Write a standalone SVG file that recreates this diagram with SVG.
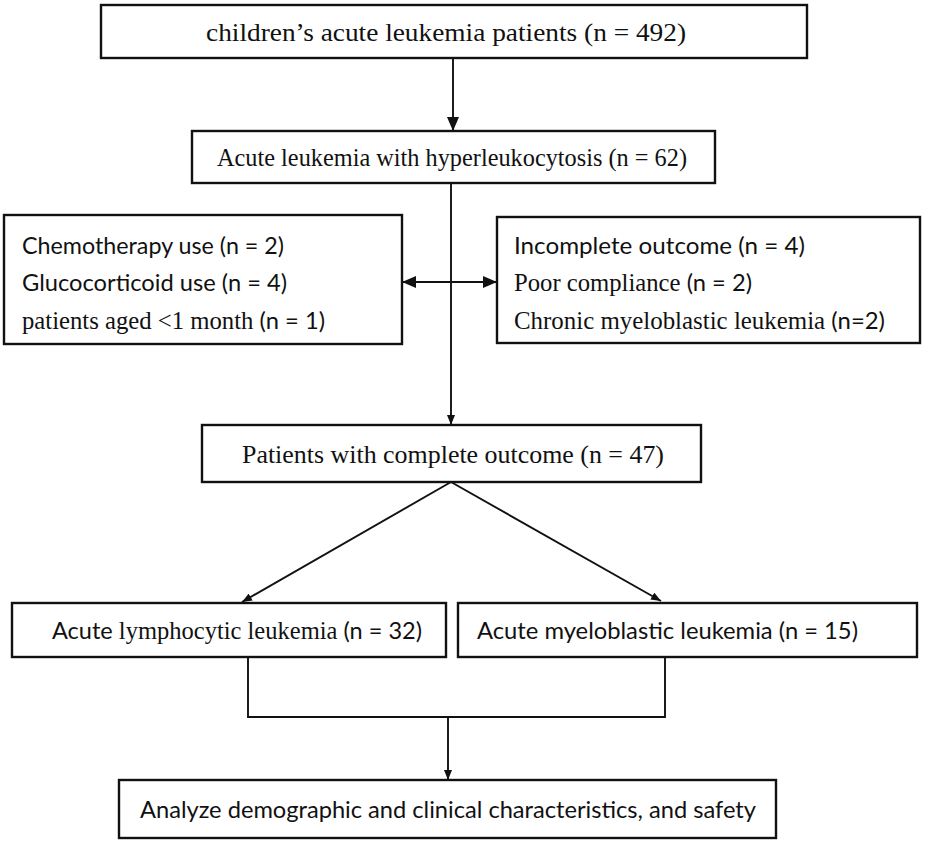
<svg xmlns="http://www.w3.org/2000/svg" width="929" height="844" viewBox="0 0 929 844">
<style>
.box{fill:#fff;stroke:#111;stroke-width:2.4}
.serif{font-family:"Liberation Serif","Times New Roman",serif;fill:#111}
.sans{font-family:Lato,"Open Sans","Liberation Sans",sans-serif;fill:#111}
.c{text-anchor:middle}
.ln{fill:none;stroke:#111;stroke-width:1.9}
</style>
<defs>
<marker id="big" viewBox="0 0 14 12" refX="14" refY="6" markerWidth="14" markerHeight="12" markerUnits="userSpaceOnUse" orient="auto"><path d="M0,0L14,6L0,12z" fill="#111"/></marker>
<marker id="mid" viewBox="0 0 14 12" refX="14" refY="6" markerWidth="14" markerHeight="12" markerUnits="userSpaceOnUse" orient="auto-start-reverse"><path d="M0,0L14,6L0,12z" fill="#111"/></marker>
<marker id="sm" viewBox="0 0 10 8" refX="10" refY="4" markerWidth="10" markerHeight="8" markerUnits="userSpaceOnUse" orient="auto"><path d="M0,0L10,4L0,8z" fill="#111"/></marker>
</defs>
<rect width="929" height="844" fill="#fff"/>
<g id="connectors">
<line class="ln" x1="453" y1="58" x2="453" y2="131" marker-end="url(#big)"/>
<line class="ln" x1="451" y1="183" x2="451" y2="425" marker-end="url(#sm)"/>
<line class="ln" x1="402" y1="282" x2="497" y2="282" marker-start="url(#mid)" marker-end="url(#mid)"/>
<line class="ln" x1="451" y1="482" x2="242" y2="602" marker-end="url(#sm)"/>
<line class="ln" x1="451" y1="482" x2="661" y2="601" marker-end="url(#sm)"/>
<polyline class="ln" points="248,657 248,717 665,717 665,657"/>
<line class="ln" x1="448" y1="717" x2="448" y2="780" marker-end="url(#sm)"/>
</g>
<g id="n1">
<rect class="box" x="101" y="5" width="706" height="53"/>
<text class="serif c" x="446" y="41" font-size="26" textLength="480" lengthAdjust="spacingAndGlyphs">children’s acute leukemia patients (n = 492)</text>
</g>
<g id="n2">
<rect class="box" x="192" y="131" width="523" height="52"/>
<text class="serif c" x="452" y="166" font-size="26" textLength="470" lengthAdjust="spacingAndGlyphs">Acute leukemia with hyperleukocytosis (n = 62)</text>
</g>
<g id="n3">
<rect class="box" x="4" y="215" width="398" height="129"/>
<text class="sans" x="22" y="254" font-size="24" textLength="262" lengthAdjust="spacingAndGlyphs">Chemotherapy use (n = 2)</text>
<text class="sans" x="22" y="291" font-size="24" textLength="265" lengthAdjust="spacingAndGlyphs">Glucocorticoid use (n = 4)</text>
<text class="serif" x="22" y="329" font-size="25" textLength="303" lengthAdjust="spacingAndGlyphs">patients aged &lt;1 month <tspan class="sans" font-size="24">(n = 1)</tspan></text>
</g>
<g id="n4">
<rect class="box" x="497" y="217" width="423" height="126"/>
<text class="sans" x="514" y="254" font-size="24" textLength="291" lengthAdjust="spacingAndGlyphs">Incomplete outcome (n = 4)</text>
<text class="serif" x="514" y="291" font-size="25" textLength="238" lengthAdjust="spacingAndGlyphs">Poor compliance <tspan class="sans" font-size="24">(n = 2)</tspan></text>
<text class="serif" x="514" y="329" font-size="25" textLength="371" lengthAdjust="spacingAndGlyphs">Chronic myeloblastic leukemia <tspan class="sans" font-size="24">(n=2)</tspan></text>
</g>
<g id="n5">
<rect class="box" x="202" y="425" width="499" height="57"/>
<text class="serif c" x="453" y="463" font-size="26" textLength="422" lengthAdjust="spacingAndGlyphs">Patients with complete outcome (n = 47)</text>
</g>
<g id="n6">
<rect class="box" x="12" y="603" width="434" height="54"/>
<text class="sans" x="52" y="639" font-size="24" textLength="370" lengthAdjust="spacingAndGlyphs">Acute <tspan class="serif" font-size="25">lymphocytic leukemia</tspan> (n = 32)</text>
</g>
<g id="n7">
<rect class="box" x="458" y="603" width="459" height="54"/>
<text class="sans" x="477" y="639" font-size="24" textLength="381" lengthAdjust="spacingAndGlyphs">Acute myeloblastic leukemia (n = 15)</text>
</g>
<g id="n8">
<rect class="box" x="119" y="780" width="657" height="58"/>
<text class="sans c" x="448" y="818" font-size="24" textLength="616" lengthAdjust="spacingAndGlyphs">Analyze demographic and clinical characteristics, and safety</text>
</g>
</svg>
